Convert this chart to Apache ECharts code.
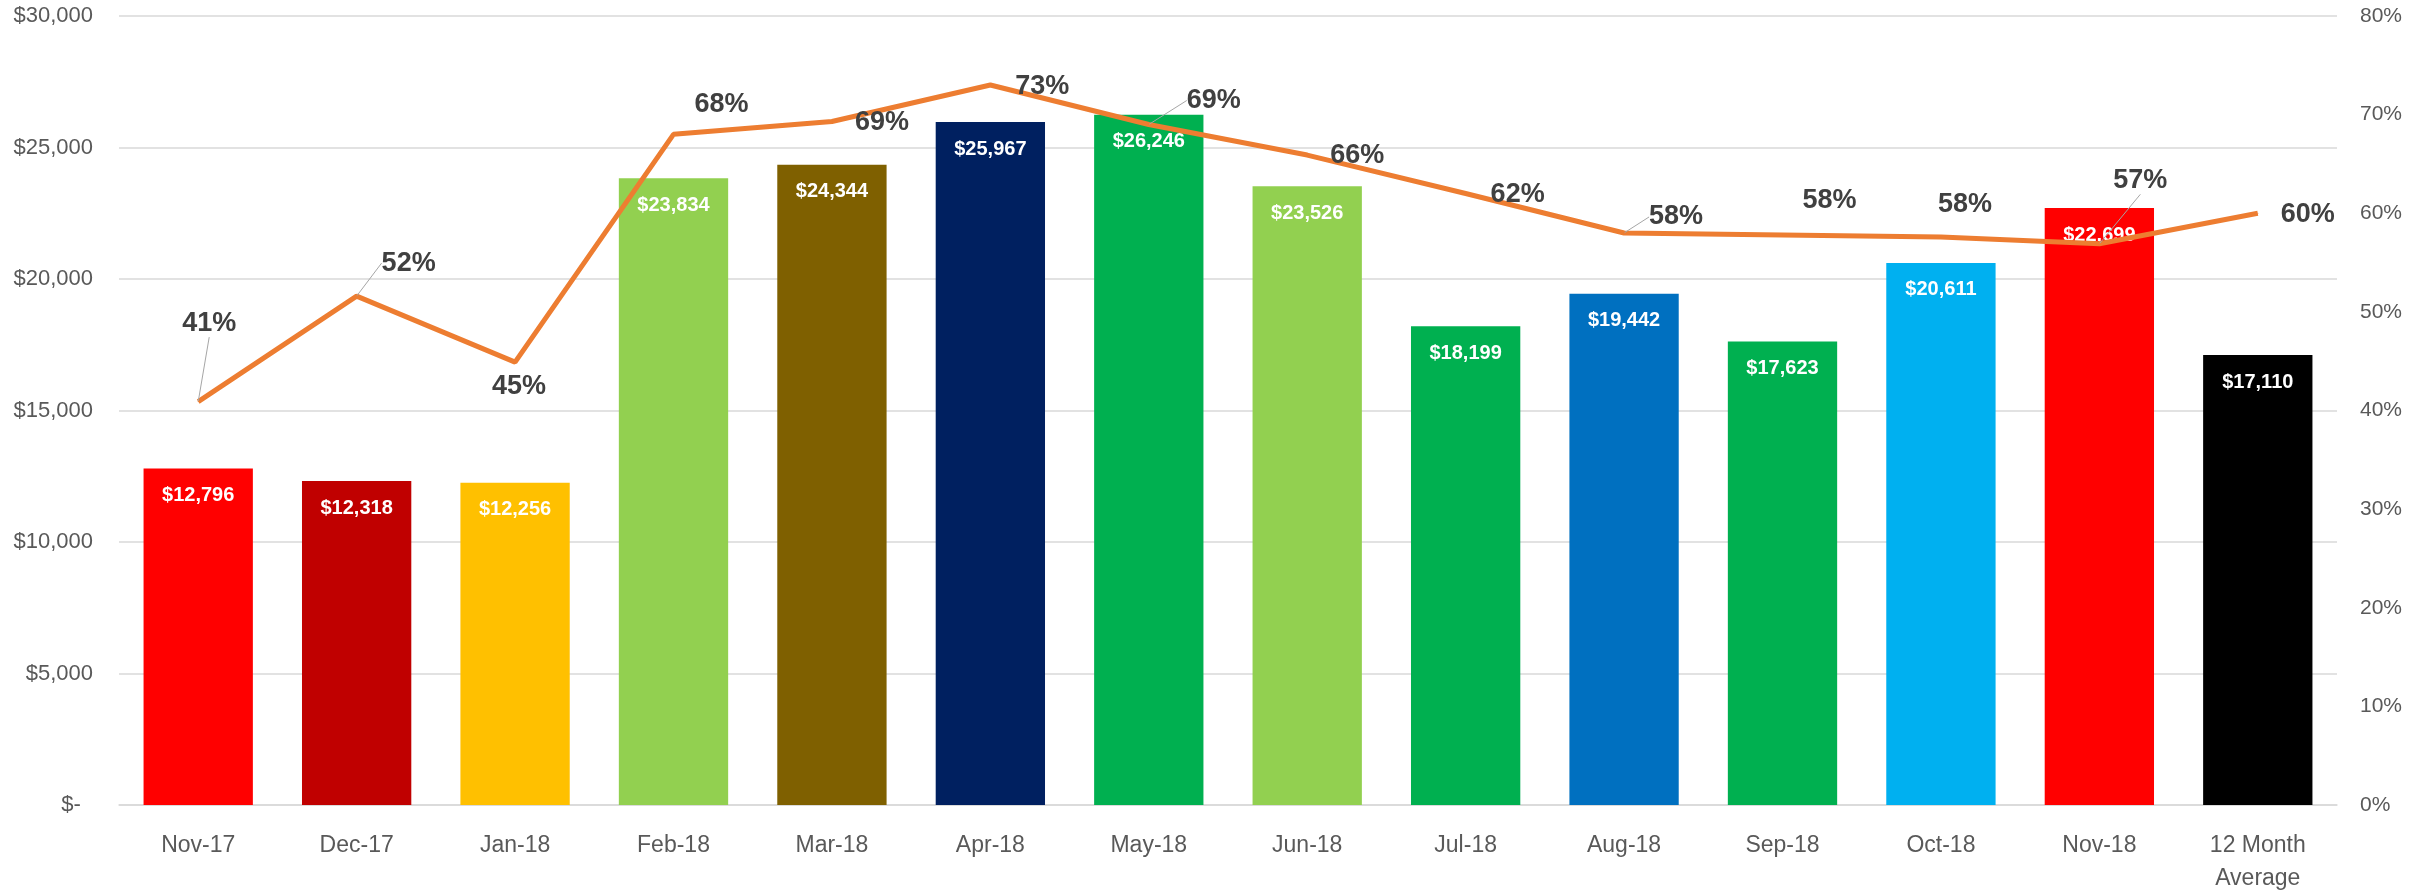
<!DOCTYPE html>
<html>
<head>
<meta charset="utf-8">
<script src="https://cdn.jsdelivr.net/npm/echarts@6/dist/echarts.min.js"></script>
<style>
html,body{margin:0;padding:0;background:#fff;}
#chart{width:2417px;height:895px;}
</style>
</head>
<body>
<div id="chart"></div>
<script>
const categories = ['Nov-17','Dec-17','Jan-18','Feb-18','Mar-18','Apr-18','May-18','Jun-18','Jul-18','Aug-18','Sep-18','Oct-18','Nov-18','12 Month\nAverage'];
const revenue = [12796, 12318, 12256, 23834, 24344, 25967, 26246, 23526, 18199, 19442, 17623, 20611, 22699, 17110];
const percent = [40.9, 51.6, 44.9, 68.0, 69.3, 73.0, 69.0, 65.9, 62.0, 58.0, 57.8, 57.6, 56.9, 60.0];
const percentLabels = ['41%','52%','45%','68%','69%','73%','69%','66%','62%','58%','58%','58%','57%','60%'];
const leftTicks = [0, 5000, 10000, 15000, 20000, 25000, 30000];
const rightTicks = [0, 10, 20, 30, 40, 50, 60, 70, 80];

const barColors = ['#FF0000','#C00000','#FFC000','#92D050','#7F6000','#002060','#00B050','#92D050','#00B050','#0070C0','#00B050','#00B0F0','#FF0000','#000000'];
const labelShift = [[11,-78],[52,-33],[4,24],[48,-30],[50,1],[52,2],[65,-24],[50,0],[52,1],[52,-16],[47,-34],[24,-32],[41,-63],[50,1]];
const withLeader = [true,true,false,false,false,false,true,false,false,true,false,false,true,false];

const FONT = '"Liberation Sans", Arial, sans-serif';
const chart = echarts.init(document.getElementById('chart'), null, {renderer:'canvas'});
chart.setOption({
  animation: false,
  backgroundColor: '#fff',
  grid: {left: 119, right: 80, top: 16, bottom: 83, containLabel: false},
  xAxis: {
    type: 'category',
    data: categories,
    axisLine: {show: true, lineStyle: {color: '#D9D9D9', width: 1.5}},
    axisTick: {show: false},
    axisLabel: {color: '#595959', fontSize: 23, fontFamily: FONT, margin: 24, lineHeight: 33, interval: 0}
  },
  yAxis: [{
    type: 'value', min: leftTicks[0], max: leftTicks[leftTicks.length-1], interval: 5000,
    axisLine: {show: false}, axisTick: {show: false},
    splitLine: {lineStyle: {color: '#D9D9D9', width: 1.5}},
    axisLabel: {color: '#595959', fontSize: 22, fontFamily: FONT, margin: 26,
      formatter: v => v === 0 ? '$-  ' : '$' + v.toLocaleString('en-US')}
  },{
    type: 'value', min: rightTicks[0], max: rightTicks[rightTicks.length-1], interval: 10,
    axisLine: {show: false}, axisTick: {show: false}, splitLine: {show: false},
    axisLabel: {color: '#595959', fontSize: 21, fontFamily: FONT, margin: 23, formatter: '{value}%'}
  }],
  series: [{
    type: 'bar',
    yAxisIndex: 0,
    barWidth: '69%',
    data: revenue.map((v, i) => ({value: v, itemStyle: {color: barColors[i]}})),
    label: {show: true, position: 'insideTop', distance: 17, color: '#fff', fontWeight: 'bold',
      fontSize: 20, fontFamily: FONT,
      formatter: p => '$' + p.value.toLocaleString('en-US')},
    z: 2
  },{
    type: 'line',
    yAxisIndex: 1,
    data: percent.map((v, i) => ({value: v, labelLine: {show: withLeader[i]}})),
    symbol: 'circle', symbolSize: 1,
    itemStyle: {color: '#ED7D31'},
    lineStyle: {color: '#ED7D31', width: 5},
    label: {show: true, position: 'inside', color: '#404040', fontWeight: 'bold', fontSize: 27, fontFamily: FONT,
      formatter: p => percentLabels[p.dataIndex]},
    labelLine: {show: false, lineStyle: {color: '#A6A6A6', width: 1}},
    labelLayout: p => ({dx: labelShift[p.dataIndex][0], dy: labelShift[p.dataIndex][1]}),
    z: 5
  }]
});
</script>
</body>
</html>
